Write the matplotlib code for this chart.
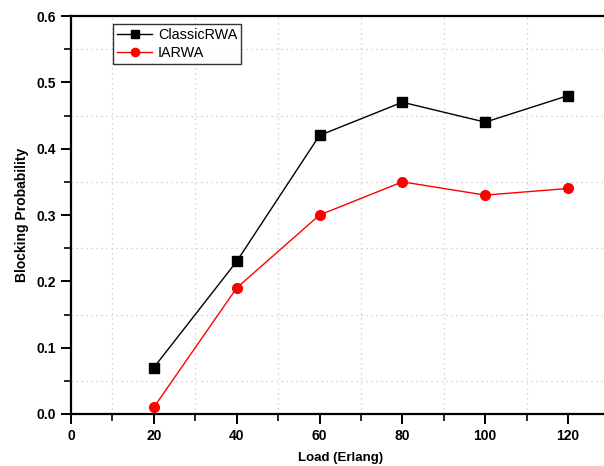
import matplotlib
matplotlib.use('Agg')
import matplotlib.pyplot as plt
from matplotlib.ticker import MultipleLocator

plt.rcParams['font.family'] = ['Liberation Sans', 'DejaVu Sans']

load = [20, 40, 60, 80, 100, 120]
classic_rwa = [0.07, 0.23, 0.42, 0.47, 0.44, 0.48]
iarwa = [0.01, 0.19, 0.30, 0.35, 0.33, 0.34]

fig = plt.figure(figsize=(6.04, 4.66), dpi=100)
ax = fig.add_axes([0.1175, 0.1116, 0.8916, 0.854])

ax.plot(load, classic_rwa, color='black', lw=1.0, marker='s', ms=7, label='ClassicRWA')
ax.plot(load, iarwa, color='red', lw=1.0, marker='o', ms=7, label='IARWA')

ax.set_xlim(0, 130)
ax.set_ylim(0, 0.6)
ax.xaxis.set_major_locator(MultipleLocator(20))
ax.xaxis.set_minor_locator(MultipleLocator(10))
ax.yaxis.set_major_locator(MultipleLocator(0.1))
ax.yaxis.set_minor_locator(MultipleLocator(0.05))
ax.yaxis.set_major_formatter(matplotlib.ticker.FormatStrFormatter('%.1f'))

# grid only on the minor (in-between) positions
ax.grid(False)
for xv in range(10, 130, 20):
    ax.axvline(xv, color='#c8c8c8', lw=0.9, ls=(0, (1, 3)), zorder=0)
for yv in [0.05, 0.15, 0.25, 0.35, 0.45, 0.55]:
    ax.axhline(yv, color='#c8c8c8', lw=0.9, ls=(0, (1, 3)), zorder=0)

for s in ax.spines.values():
    s.set_linewidth(1.6)
ax.tick_params(which='major', direction='out', length=7, width=1.4, labelsize=10, pad=4)
ax.tick_params(which='minor', direction='out', length=5, width=1.2)
ax.tick_params(top=False, right=False, which='both')
for lab in ax.get_xticklabels() + ax.get_yticklabels():
    lab.set_fontweight('bold')

ax.set_xlabel('Load (Erlang)', fontsize=9.5, fontweight='bold', labelpad=6)
ax.set_ylabel('Blocking Probability', fontsize=10, fontweight='bold', labelpad=5)

leg = ax.legend(loc='upper left', bbox_to_anchor=(0.078, 0.98), borderaxespad=0,
                fontsize=10.4, frameon=True, fancybox=False, edgecolor='black',
                borderpad=0.3, handlelength=2.4, labelspacing=0.25, handletextpad=0.4,
                markerscale=0.85)
leg.get_frame().set_linewidth(1.0)

fig.savefig('out.png', dpi=100)
